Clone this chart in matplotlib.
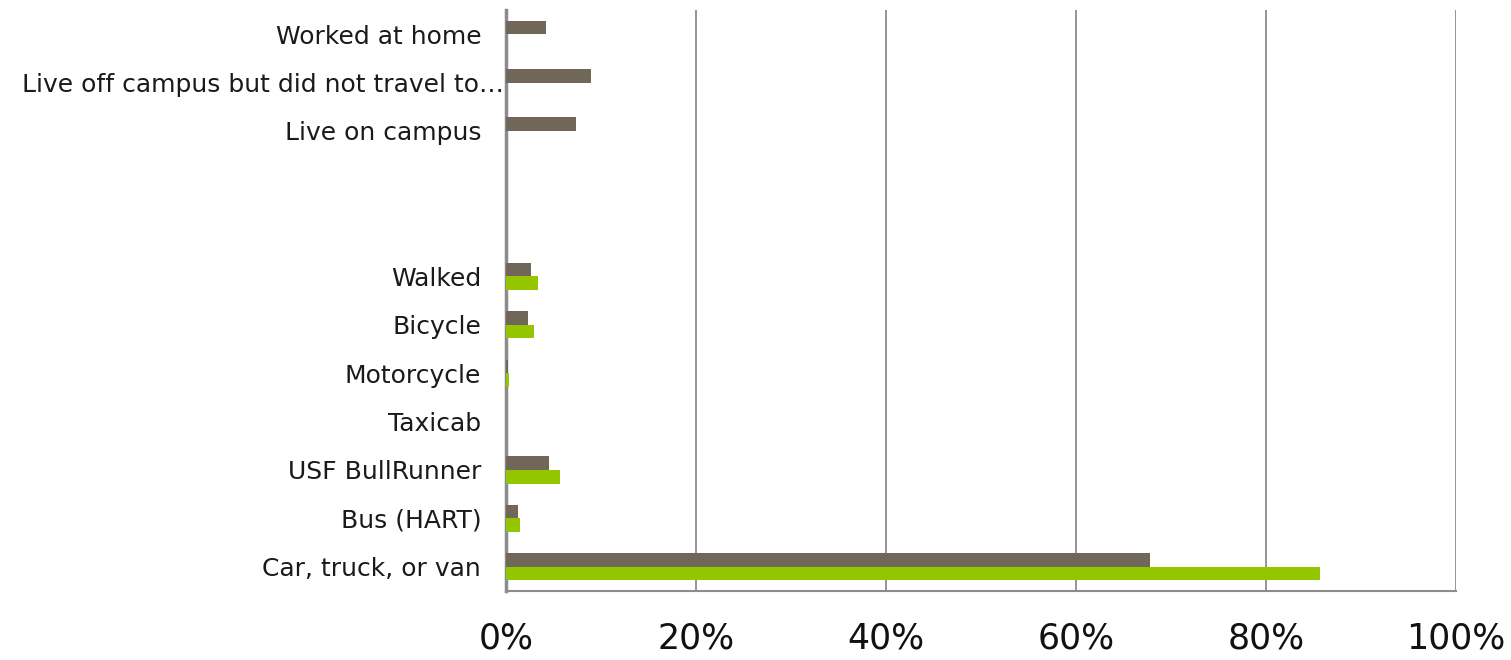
import matplotlib
matplotlib.use("Agg")
import matplotlib.pyplot as plt
from matplotlib.transforms import ScaledTranslation
import numpy as np

# Commute mode shares (%), listed bottom to top; blank rows split the groups.
categories = ["Car, truck, or van", "Bus (HART)", "USF BullRunner", "Taxicab",
              "Motorcycle", "Bicycle", "Walked", "", "",
              "Live on campus", "Live off campus but did not travel to\u2026",
              "Worked at home"]
share_dark = [67.8, 1.2, 4.5, 0.0, 0.2, 2.3, 2.6, np.nan, np.nan, 7.4, 8.9, 4.2]
share_green = [85.7, 1.5, 5.7, 0.0, 0.3, 2.9, 3.4, np.nan, np.nan,
               np.nan, np.nan, np.nan]
xticks = [0, 20, 40, 60, 80, 100]

DARK = "#716758"
GREEN = "#94C600"
GRID = "#8C8C8C"

plt.rcParams["font.family"] = ["DejaVu Sans"]

fig = plt.figure(figsize=(15.11, 6.6), dpi=100)
ax = fig.add_axes([0.335, 0.1045, 0.6286, 0.8805])

y = np.arange(len(categories))
h = 0.28
ax.barh(y + h / 2, np.nan_to_num(share_dark), height=h, color=DARK, zorder=3)
ax.barh(y - h / 2, np.nan_to_num(share_green), height=h, color=GREEN, zorder=3)

ax.set_xlim(0, 100)
ax.set_ylim(-0.5, len(categories) - 0.5)
ax.set_xticks(xticks)
ax.set_xticklabels([f"{t}%" for t in xticks], fontsize=25, color="#111111")
ax.set_yticks(y)
ax.set_yticklabels(categories, fontsize=18, color="#1a1a1a")
ax.tick_params(axis="both", length=0)
ax.tick_params(axis="y", pad=18)
ax.tick_params(axis="x", pad=22)

# the truncated long label runs right up to the axis line
long_lbl = ax.get_yticklabels()[10]
long_lbl.set_transform(long_lbl.get_transform()
                       + ScaledTranslation(0.23, 0, fig.dpi_scale_trans))

ax.grid(axis="x", color=GRID, lw=1.3, zorder=0)
for side in ("top", "right"):
    ax.spines[side].set_visible(False)
for side in ("left", "bottom"):
    ax.spines[side].set_color(GRID)
    ax.spines[side].set_linewidth(2.5 if side == "left" else 1.5)

fig.savefig("out.png", dpi=100)
